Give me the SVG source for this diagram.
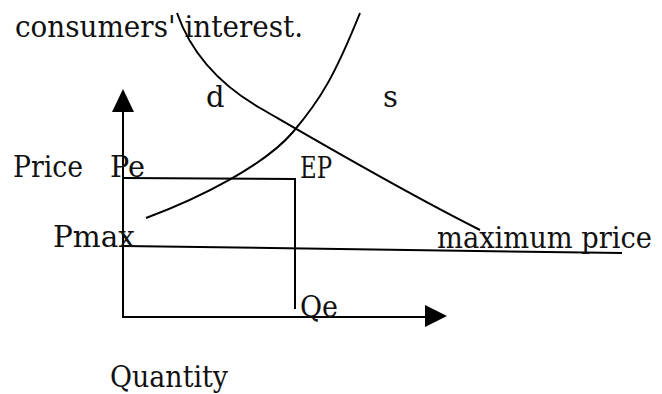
<svg xmlns="http://www.w3.org/2000/svg" width="662" height="394" viewBox="0 0 662 394">
<style>
text{font-family:"DejaVu Serif","Liberation Serif",serif;font-size:29px;fill:#111}
.ln{fill:none;stroke:#000;stroke-width:2}
.ah{fill:#000;stroke:none}
</style>
<rect width="662" height="394" fill="#fff"/>
<text x="15" y="37" textLength="288" lengthAdjust="spacingAndGlyphs">consumers' interest.</text>
<g id="axes">
<line class="ln" x1="123" y1="108" x2="123" y2="318"/>
<polygon class="ah" points="123,89 112,112 134,112"/>
<line class="ln" x1="123" y1="317" x2="428" y2="317"/>
<polygon class="ah" points="447,316 425,305 425,327"/>
</g>
<g id="equilibrium">
<polyline class="ln" points="123,178 295,179 295,309"/>
</g>
<g id="maxprice">
<line class="ln" x1="123" y1="246" x2="622" y2="253"/>
</g>
<g id="curves">
<path id="demand" class="ln" d="M177,13 C190,50 215,82 260,108 S400,190 480,230"/>
<path id="supply" class="ln" d="M146,218 C200,198 265,165 293,132 S335,75 360,13"/>
</g>
<g id="labels">
<text x="206" y="107">d</text>
<text x="383" y="107">s</text>
<text x="13" y="177" textLength="70" lengthAdjust="spacingAndGlyphs">Price</text>
<text x="110" y="177" textLength="35" lengthAdjust="spacingAndGlyphs">Pe</text>
<text x="300" y="178" textLength="32" lengthAdjust="spacingAndGlyphs">EP</text>
<text x="53" y="247" textLength="82" lengthAdjust="spacingAndGlyphs">Pmax</text>
<text x="437" y="248" textLength="215" lengthAdjust="spacingAndGlyphs">maximum price</text>
<text x="300" y="317" textLength="38" lengthAdjust="spacingAndGlyphs">Qe</text>
<text x="110" y="387" textLength="118" lengthAdjust="spacingAndGlyphs">Quantity</text>
</g>
</svg>
